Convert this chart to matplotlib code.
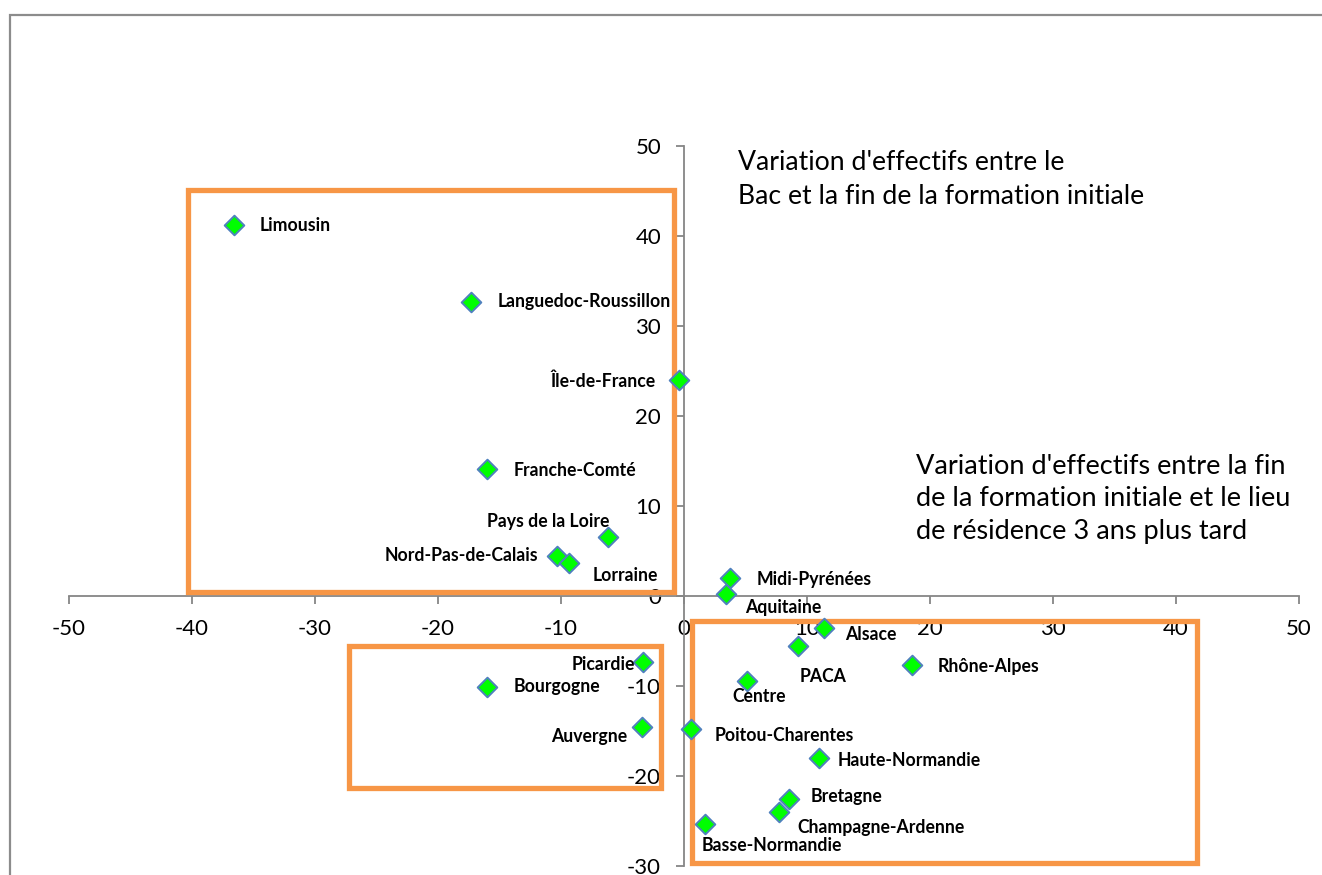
import matplotlib
matplotlib.use("Agg")
import matplotlib.pyplot as plt
from matplotlib.patches import Rectangle

plt.rcParams['font.family'] = ['Lato', 'DejaVu Sans']
plt.rcParams['axes.unicode_minus'] = False

# ---- data ----
regions = ["Limousin", "Languedoc-Roussillon", "Île-de-France", "Franche-Comté",
           "Pays de la Loire", "Nord-Pas-de-Calais", "Lorraine", "Midi-Pyrénées",
           "Aquitaine", "Alsace", "PACA", "Rhône-Alpes", "Centre", "Picardie",
           "Bourgogne", "Auvergne", "Poitou-Charentes", "Haute-Normandie",
           "Bretagne", "Champagne-Ardenne", "Basse-Normandie"]
x_vals = [-36.6, -17.3, -0.4, -16.0, -6.2, -10.3, -9.35, 3.76, 3.39, 11.4, 9.3,
          18.5, 5.1, -3.3, -16.0, -3.4, 0.57, 11.0, 8.56, 7.7, 1.73]
y_vals = [41.2, 32.7, 24.0, 14.1, 6.6, 4.5, 3.7, 2.0, 0.2, -3.5, -5.5, -7.7,
          -9.4, -7.3, -10.1, -14.5, -14.8, -18.0, -22.5, -24.0, -25.3]
x_ticks = [-50, -40, -30, -20, -10, 0, 10, 20, 30, 40, 50]
y_ticks = [-30, -20, -10, 0, 10, 20, 30, 40, 50]
note_top = ["Variation d'effectifs entre le", "Bac et la fin de la formation initiale"]
note_right = ["Variation d'effectifs entre la fin", "de la formation initiale et le lieu",
              "de résidence 3 ans plus tard"]

# label placement (pixel offsets dx, dy-down, alignment)
label_pos = {
    "Limousin": (26, 0, 'left'), "Languedoc-Roussillon": (26, 0, 'left'),
    "Île-de-France": (-23, 1, 'right'), "Franche-Comté": (26, 1, 'left'),
    "Pays de la Loire": (2, -15, 'right'), "Nord-Pas-de-Calais": (-19, 0, 'right'),
    "Lorraine": (24, 13, 'left'), "Midi-Pyrénées": (26, 1, 'left'),
    "Aquitaine": (19, 13, 'left'), "Alsace": (21, 7, 'left'),
    "PACA": (1, 31, 'left'), "Rhône-Alpes": (26, 1, 'left'),
    "Centre": (-14, 16, 'left'), "Picardie": (-8, 3, 'right'),
    "Bourgogne": (26, 0, 'left'), "Auvergne": (-15, 10, 'right'),
    "Poitou-Charentes": (24, 6, 'left'), "Haute-Normandie": (18, 2, 'left'),
    "Bretagne": (21, -2, 'left'), "Champagne-Ardenne": (19, 15, 'left'),
    "Basse-Normandie": (-4, 22, 'left'),
}

W, H = 1322, 875
fig = plt.figure(figsize=(W / 100, H / 100), dpi=100)
ax = fig.add_axes([69 / W, 1 - 866 / H, (1299 - 69) / W, (866 - 146) / H])
ax.set_xlim(-50, 50)
ax.set_ylim(-30, 50)

gray = '#868686'
for s in ['top', 'right']:
    ax.spines[s].set_visible(False)
ax.spines['left'].set_position(('data', 0))
ax.spines['bottom'].set_position(('data', 0))
for s in ['left', 'bottom']:
    ax.spines[s].set_color(gray)
    ax.spines[s].set_linewidth(1.3)
ax.set_xticks(x_ticks)
ax.set_yticks(y_ticks)
ax.tick_params(axis='both', direction='out', length=5.5, width=1.3, color=gray,
               labelsize=16, labelcolor='black')
ax.tick_params(axis='x', pad=11)
ax.tick_params(axis='y', pad=11)
ax.patch.set_alpha(0)

px = 0.72  # points per pixel
ax.scatter(x_vals, y_vals, marker='D', s=10.0 ** 2, facecolor='#00FF00',
           edgecolor='#4F81BD', linewidth=1.4, zorder=5, clip_on=False)
for name, xv, yv in zip(regions, x_vals, y_vals):
    dx, dy, ha = label_pos[name]
    ax.annotate(name, (xv, yv), xytext=(dx * px, -dy * px), textcoords='offset points',
                ha=ha, va='center', fontsize=12.7, fontweight='bold', zorder=6)

# orange highlight boxes (data coords)
orange = '#F79646'
for (x0, y0, x1, y1) in [(-40.3, 0.44, -0.81, 45.1), (-27.2, -21.3, -1.87, -5.56),
                         (0.65, -29.7, 41.7, -2.78)]:
    ax.add_patch(Rectangle((x0, y0), x1 - x0, y1 - y0, fill=False, edgecolor=orange,
                           linewidth=3.8, zorder=4, clip_on=False, joinstyle='miter'))

# notes
for i, t in enumerate(note_top):
    fig.text(738 / W, 1 - (162 + 34 * i) / H, t, fontsize=19.2, va='center', ha='left')
for i, t in enumerate(note_right):
    fig.text(916 / W, 1 - (466 + 33 * i) / H, t, fontsize=19.5, va='center', ha='left')

# chart frame (partially outside the image)
fig.patches.append(Rectangle((10 / W, -0.1), 1.2, 1 - 15 / H + 0.1, transform=fig.transFigure,
                             fill=False, edgecolor='#8C8C8C', linewidth=1.6, zorder=0))

fig.savefig('out.png', dpi=100, facecolor='white')
